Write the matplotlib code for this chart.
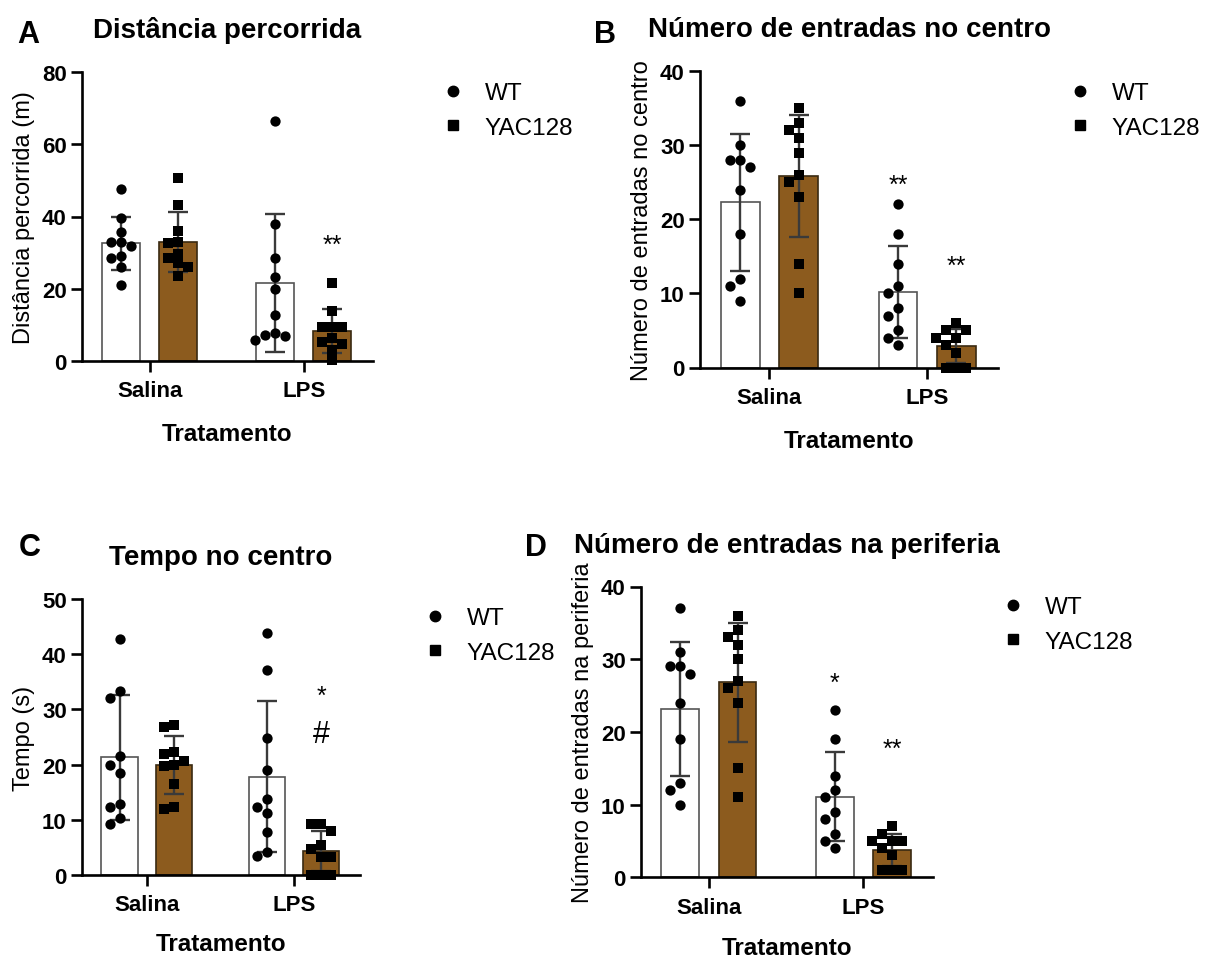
import numpy as np
import matplotlib.pyplot as plt
from matplotlib.lines import Line2D

plt.rcParams['font.family'] = ['Liberation Sans', 'DejaVu Sans']

groups = ['Salina', 'LPS']
series = ['WT', 'YAC128']

# --- A: distância percorrida (m) ---
dist_wt_sal = [47.6, 39.6, 35.8, 33.0, 33.0, 31.7, 29.2, 28.4, 25.9, 21.1]
dist_yac_sal = [50.6, 43.3, 35.9, 33.0, 32.6, 29.6, 28.4, 27.1, 26.1, 23.6]
dist_wt_lps = [66.3, 37.9, 28.5, 23.2, 19.8, 12.7, 7.8, 7.2, 6.8, 5.9]
dist_yac_lps = [21.5, 13.9, 9.5, 9.5, 9.3, 6.3, 5.2, 4.7, 3.1, 0.3]

# --- B: número de entradas no centro ---
cent_wt_sal = [36, 30, 28, 28, 27, 24, 18, 12, 11, 9]
cent_yac_sal = [35, 33, 32, 31, 29, 26, 25, 23, 14, 10]
cent_wt_lps = [22, 18, 14, 11, 10, 8, 7, 5, 4, 3]
cent_yac_lps = [6, 5, 5, 4, 4, 3, 2, 0, 0, 0]

# --- C: tempo no centro (s) ---
tempo_wt_sal = [42.7, 33.3, 32.1, 21.6, 20.0, 18.5, 12.8, 12.4, 10.4, 9.2]
tempo_yac_sal = [27.2, 26.9, 22.2, 21.9, 20.6, 20.0, 19.8, 16.4, 12.4, 11.9]
tempo_wt_lps = [43.8, 37.2, 24.9, 19.1, 13.7, 12.4, 11.2, 7.8, 4.1, 3.5]
tempo_yac_lps = [9.3, 9.3, 7.9, 5.4, 4.7, 3.3, 3.3, 0.0, 0.0, 0.0]

# --- D: número de entradas na periferia ---
per_wt_sal = [37, 31, 29, 29, 28, 24, 19, 13, 12, 10]
per_yac_sal = [36, 34, 33, 32, 30, 27, 26, 24, 15, 11]
per_wt_lps = [23, 19, 14, 12, 11, 9, 8, 6, 5, 4]
per_yac_lps = [7, 6, 5, 5, 5, 4, 3, 1, 1, 1]

# significância: (grupo, série, altura, texto)
marks_A = [(1, 1, 32.2, '**')]
marks_B = [(1, 0, 24.6, '**'), (1, 1, 13.7, '**')]
marks_C = [(1, 1, 32.5, '*'), (1, 1, 25.5, '#')]
marks_D = [(1, 0, 26.8, '*'), (1, 1, 17.6, '**')]

W, H = 1216, 962
fig = plt.figure(figsize=(W / 100, H / 100), dpi=100)

BROWN = '#8c5b1e'
OFF, BW = 0.185, 0.245


def px_axes(x0, x1, ytop, ybot):
    return fig.add_axes([x0 / W, 1 - ybot / H, (x1 - x0) / W, (ybot - ytop) / H])


def swarm(ax, x0, vals, step=10, mind=9):
    """posições x tipo 'beeswarm' (em pixels -> dados)"""
    placed, xs = [], []
    inv = ax.transData.inverted()
    for v in vals:
        cx, cy = ax.transData.transform((x0, v))
        for k in [0, -1, 1, -2, 2, -3, 3]:
            px = cx + k * step
            if all(np.hypot(px - qx, cy - qy) >= mind for qx, qy in placed):
                break
        placed.append((px, cy))
        xs.append(inv.transform((px, cy))[0])
    return xs


def panel(ax, data, ylabel, title, ymax, ystep, marks, letter, letter_xy, leg_xy, xpad):
    ax.set_xlim(-0.44, 1.45)
    ax.set_ylim(0, ymax)
    for gi in range(2):
        for si in range(2):
            vals = np.array(data[gi][si], dtype=float)
            x = gi + (-OFF if si == 0 else OFF)
            m, sd = vals.mean(), vals.std(ddof=1)
            if si == 0:
                ax.bar(x, m, width=BW, color='white', edgecolor='#555555', lw=1.2, zorder=1)
            else:
                ax.bar(x, m, width=BW, color=BROWN, edgecolor='#3a2a12', lw=1.2, zorder=1)
            ax.errorbar(x, m, yerr=sd, color='#3a3a3a', lw=1.7, capsize=7, capthick=1.7, zorder=2)
            xs = swarm(ax, x, vals)
            ax.scatter(xs, vals, marker='o' if si == 0 else 's', s=55 if si == 0 else 46,
                       color='black', lw=0, zorder=4, clip_on=False)
    for gi, si, y, t in marks:
        x = gi + (-OFF if si == 0 else OFF)
        ax.text(x, y, t, ha='center', va='center', fontsize=22 if t == '#' else 18)

    ax.set_yticks(np.arange(0, ymax + 1, ystep))
    ax.set_xticks([0, 1])
    ax.set_xticklabels(groups)
    for s in ['top', 'right']:
        ax.spines[s].set_visible(False)
    for s in ['left', 'bottom']:
        ax.spines[s].set_linewidth(1.9)
    ax.tick_params(width=1.9, length=8, labelsize=16, pad=3)
    ax.tick_params(axis='x', pad=6)
    for lab in ax.get_xticklabels() + ax.get_yticklabels():
        lab.set_fontweight('bold')
    ax.set_xlabel('Tratamento', fontsize=17.5, fontweight='bold', labelpad=xpad)
    ax.set_ylabel(ylabel, fontsize=17, labelpad=5)
    ax.set_title(title, fontsize=20, fontweight='bold', pad=25)
    fig.text(letter_xy[0] / W, 1 - letter_xy[1] / H, letter, fontsize=22, fontweight='bold',
             ha='center', va='center')

    handles = [Line2D([], [], marker='o', ls='', color='black', markersize=7.5),
               Line2D([], [], marker='s', ls='', color='black', markersize=6.5)]
    ax.legend(handles, series, loc='center left', frameon=False, fontsize=17.5,
              handlelength=0.8, handletextpad=0.92, labelspacing=0.52, borderaxespad=0,
              borderpad=0,
              bbox_to_anchor=(leg_xy[0] / W, 1 - leg_xy[1] / H), bbox_transform=fig.transFigure)


axA = px_axes(82, 373, 73, 362)
panel(axA, [[dist_wt_sal, dist_yac_sal], [dist_wt_lps, dist_yac_lps]],
      'Distância percorrida (m)', 'Distância percorrida', 80, 20, marks_A,
      'A', (28, 35), (443, 111.5), 15)

axB = px_axes(700, 998, 72, 368.5)
panel(axB, [[cent_wt_sal, cent_yac_sal], [cent_wt_lps, cent_yac_lps]],
      'Número de entradas no centro', 'Número de entradas no centro', 40, 10, marks_B,
      'B', (605, 35), (1070, 111.5), 15)

axC = px_axes(82, 360, 600, 876)
panel(axC, [[tempo_wt_sal, tempo_yac_sal], [tempo_wt_lps, tempo_yac_lps]],
      'Tempo (s)', 'Tempo no centro', 50, 10, marks_C,
      'C', (30, 548), (425, 636.5), 12)

axD = px_axes(641, 933, 587.5, 878.3)
panel(axD, [[per_wt_sal, per_yac_sal], [per_wt_lps, per_yac_lps]],
      'Número de entradas na periferia', 'Número de entradas na periferia', 40, 10, marks_D,
      'D', (536, 548), (1003, 625.5), 13)

fig.savefig('out.png', dpi=100)
